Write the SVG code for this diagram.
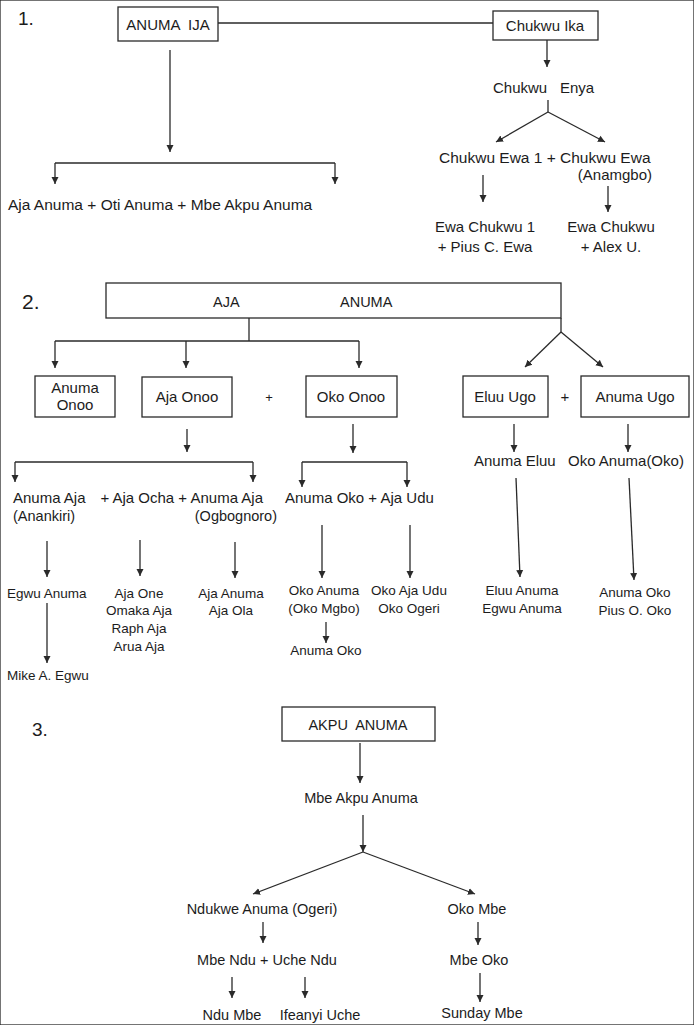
<svg xmlns="http://www.w3.org/2000/svg" width="694" height="1025" viewBox="0 0 694 1025">
<defs>
<marker id="ah" viewBox="0 0 10 10" refX="10" refY="5" markerWidth="7" markerHeight="9" markerUnits="userSpaceOnUse" orient="auto"><path d="M0,0 L10,5 L0,10 z" fill="#2a2a2a"/></marker>
</defs>
<style>
text{font-family:"Liberation Sans",Arial,sans-serif;fill:#1c1c1c;font-size:15px;white-space:pre}
.s{font-size:13.5px}
.m{font-size:14.5px}
.num{font-size:19px}
.c{text-anchor:middle}
rect{fill:#fff;stroke:#2a2a2a;stroke-width:1.3}
.cn path,.cn line{fill:none;stroke:#2a2a2a;stroke-width:1.3}
.ar{marker-end:url(#ah)}
</style>
<rect x="0" y="0" width="694" height="1025" fill="#fff" stroke="none"/>

<g class="cn" id="connectors">
<!-- section 1 -->
<line x1="218" y1="23" x2="493" y2="23"/>
<line class="ar" x1="170" y1="50" x2="170" y2="152"/>
<path d="M55,163 H335"/>
<line class="ar" x1="55" y1="163" x2="55" y2="184"/>
<line class="ar" x1="335" y1="163" x2="335" y2="184"/>
<line class="ar" x1="547" y1="40" x2="547" y2="67"/>
<line x1="548" y1="100" x2="548" y2="112"/>
<line class="ar" x1="548" y1="112" x2="496" y2="142"/>
<line class="ar" x1="548" y1="112" x2="605" y2="142"/>
<line class="ar" x1="483" y1="175" x2="483" y2="202"/>
<line class="ar" x1="608" y1="186" x2="608" y2="212"/>
<!-- section 2 -->
<line x1="249" y1="318" x2="249" y2="341"/>
<path d="M55,341 H359"/>
<line class="ar" x1="55" y1="341" x2="55" y2="368"/>
<line class="ar" x1="186" y1="341" x2="186" y2="368"/>
<line class="ar" x1="359" y1="341" x2="359" y2="368"/>
<line x1="561" y1="318" x2="561" y2="332"/>
<line class="ar" x1="561" y1="332" x2="525" y2="367"/>
<line class="ar" x1="561" y1="332" x2="603" y2="367"/>
<line class="ar" x1="187" y1="429" x2="187" y2="452"/>
<line class="ar" x1="353" y1="424" x2="353" y2="453"/>
<path d="M15,462 H253"/>
<line class="ar" x1="15" y1="462" x2="15" y2="482"/>
<line class="ar" x1="253" y1="462" x2="253" y2="482"/>
<path d="M302,462 H407"/>
<line class="ar" x1="302" y1="462" x2="302" y2="487"/>
<line class="ar" x1="407" y1="462" x2="407" y2="487"/>
<line class="ar" x1="514" y1="424" x2="514" y2="452"/>
<line class="ar" x1="628" y1="424" x2="628" y2="452"/>
<line class="ar" x1="47" y1="541" x2="47" y2="577"/>
<line class="ar" x1="47" y1="603" x2="47" y2="663"/>
<line class="ar" x1="140" y1="540" x2="140" y2="576"/>
<line class="ar" x1="235" y1="542" x2="235" y2="578"/>
<line class="ar" x1="322" y1="525" x2="322" y2="578"/>
<line class="ar" x1="326" y1="622" x2="326" y2="643"/>
<line class="ar" x1="410" y1="525" x2="410" y2="578"/>
<line class="ar" x1="516" y1="478" x2="520" y2="577"/>
<line class="ar" x1="629" y1="478" x2="634" y2="580"/>
<!-- section 3 -->
<line class="ar" x1="360" y1="743" x2="360" y2="783"/>
<line class="ar" x1="363" y1="815" x2="363" y2="852"/>
<line class="ar" x1="363" y1="852" x2="253" y2="894"/>
<line class="ar" x1="363" y1="852" x2="475" y2="894"/>
<line class="ar" x1="263" y1="922" x2="263" y2="943"/>
<line class="ar" x1="478" y1="922" x2="478" y2="945"/>
<line class="ar" x1="232" y1="977" x2="232" y2="998"/>
<line class="ar" x1="305" y1="977" x2="305" y2="998"/>
<line class="ar" x1="480" y1="973" x2="480" y2="1002"/>
</g>

<!-- Section 1 -->
<text class="num" x="18" y="25">1.</text>
<g id="anuma-ija"><rect x="118" y="7" width="100" height="34"/><text class="c" x="168" y="30">ANUMA  IJA</text></g>
<g id="chukwu-ika"><rect x="493" y="11" width="105" height="29"/><text class="c" x="545" y="31">Chukwu Ika</text></g>
<g id="aja-oti-mbe"><text x="8" y="210" style="font-size:15.5px">Aja Anuma + Oti Anuma + Mbe Akpu Anuma</text></g>
<g id="chukwu-enya"><text x="493" y="93">Chukwu</text><text x="560" y="93">Enya</text></g>
<g id="chukwu-ewa"><text x="439" y="163" style="font-size:15.5px">Chukwu Ewa 1 + Chukwu Ewa</text><text x="652" y="180" style="text-anchor:end">(Anamgbo)</text></g>
<g id="ewa-chukwu-1"><text class="c" x="485" y="232">Ewa Chukwu 1</text><text class="c" x="485" y="252">+ Pius C. Ewa</text></g>
<g id="ewa-chukwu"><text class="c" x="611" y="232">Ewa Chukwu</text><text class="c" x="611" y="252">+ Alex U.</text></g>

<!-- Section 2 -->
<text class="num" x="22" y="309" style="font-size:21px">2.</text>
<g id="aja-anuma"><rect x="106" y="283" width="455" height="35"/><text x="213" y="307" class="m">AJA</text><text x="340" y="307" class="m">ANUMA</text></g>
<g id="anuma-onoo"><rect x="35" y="376" width="80" height="41"/><text class="c" x="75" y="393">Anuma</text><text class="c" x="75" y="410">Onoo</text></g>
<g id="aja-onoo"><rect x="142" y="377" width="90" height="40"/><text class="c" x="187" y="402">Aja Onoo</text></g>
<text class="c" x="269" y="402" style="font-size:13px">+</text>
<g id="oko-onoo"><rect x="306" y="376" width="91" height="41"/><text class="c" x="351" y="402">Oko Onoo</text></g>
<g id="eluu-ugo"><rect x="463" y="376" width="85" height="41"/><text class="c" x="505" y="402">Eluu Ugo</text></g>
<text class="c" x="565" y="402">+</text>
<g id="anuma-ugo"><rect x="581" y="376" width="108" height="41"/><text class="c" x="635" y="402">Anuma Ugo</text></g>
<g id="anuma-eluu"><text x="474" y="466">Anuma Eluu</text></g>
<g id="oko-anuma-oko"><text x="568" y="466">Oko Anuma(Oko)</text></g>
<g id="aja-children"><text x="13" y="503">Anuma Aja</text><text x="263" y="503" style="text-anchor:end">+ Aja Ocha + Anuma Aja</text><text x="13" y="521" class="m">(Anankiri)</text><text x="277" y="521" class="m" style="text-anchor:end">(Ogbognoro)</text></g>
<g id="oko-children"><text x="285" y="503">Anuma Oko + Aja Udu</text></g>
<g id="egwu-anuma"><text x="7" y="598" class="s">Egwu Anuma</text></g>
<g id="mike"><text x="7" y="680" class="s">Mike A. Egwu</text></g>
<g id="aja-one"><text class="c s" x="139" y="598">Aja One</text><text class="c s" x="139" y="615">Omaka Aja</text><text class="c s" x="139" y="633">Raph Aja</text><text class="c s" x="139" y="651">Arua Aja</text></g>
<g id="aja-anuma-ola"><text class="c s" x="231" y="598">Aja Anuma</text><text class="c s" x="231" y="615">Aja Ola</text></g>
<g id="oko-anuma-mgbo"><text class="c s" x="324" y="595">Oko Anuma</text><text class="c s" x="324" y="613">(Oko Mgbo)</text></g>
<g id="anuma-oko-2"><text class="c s" x="326" y="655">Anuma Oko</text></g>
<g id="oko-aja-udu"><text class="c s" x="409" y="595">Oko Aja Udu</text><text class="c s" x="409" y="613">Oko Ogeri</text></g>
<g id="eluu-anuma"><text class="c s" x="522" y="595">Eluu Anuma</text><text class="c s" x="522" y="613">Egwu Anuma</text></g>
<g id="anuma-oko-pius"><text class="c s" x="635" y="597">Anuma Oko</text><text class="c s" x="635" y="615">Pius O. Oko</text></g>

<!-- Section 3 -->
<text class="num" x="32" y="736">3.</text>
<g id="akpu-anuma"><rect x="282" y="707" width="153" height="34"/><text class="c m" x="358" y="730">AKPU  ANUMA</text></g>
<g id="mbe-akpu-anuma"><text class="c m" x="361" y="803">Mbe Akpu Anuma</text></g>
<g id="ndukwe"><text class="c m" x="262" y="914">Ndukwe Anuma (Ogeri)</text></g>
<g id="oko-mbe"><text class="c m" x="477" y="914">Oko Mbe</text></g>
<g id="mbe-ndu"><text class="c m" x="267" y="965">Mbe Ndu + Uche Ndu</text></g>
<g id="mbe-oko"><text class="c m" x="479" y="965">Mbe Oko</text></g>
<g id="ndu-mbe"><text class="c m" x="232" y="1020">Ndu Mbe</text></g>
<g id="ifeanyi"><text class="c m" x="320" y="1020">Ifeanyi Uche</text></g>
<g id="sunday"><text class="c m" x="482" y="1018">Sunday Mbe</text></g>
</svg>
